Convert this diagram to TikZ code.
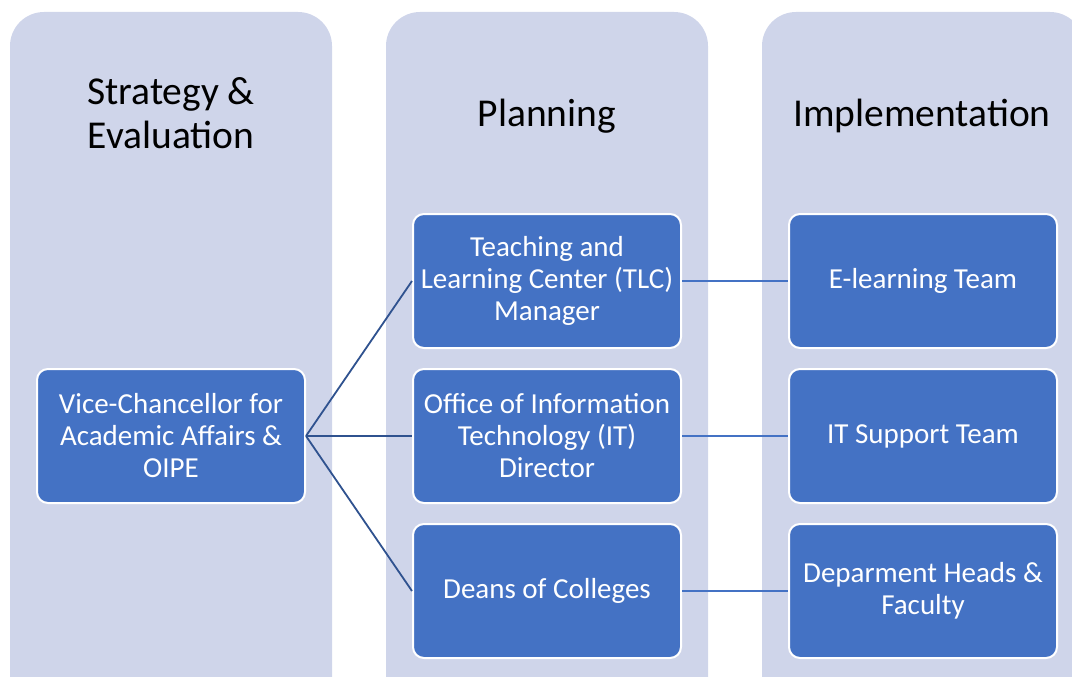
\documentclass[tikz,border=0pt]{standalone}
\usepackage{fontspec}
\setmainfont{Carlito}
\usepackage{xcolor}
\usepackage{tikz}
\definecolor{lavender}{HTML}{CFD5EA}
\definecolor{boxblue}{HTML}{4472C4}
\definecolor{linkblue}{HTML}{2F528F}
\tikzset{
	column/.style = {rectangle, rounded corners = 34pt, fill = lavender, minimum width = 322pt, minimum height = 700pt},
	header/.style = {align = center, font = \fontsize{39.5}{44}\selectfont},
	unit/.style = {rectangle, rounded corners = 11pt, draw = white, line width = 2pt, fill = boxblue, text = white, minimum width = 268pt, minimum height = 134pt, align = center, font = \fontsize{29}{32}\selectfont},
	link/.style = {line width = 1.8pt, draw = linkblue},
	flat/.style = {line width = 1.8pt, draw = boxblue}
}

\begin{document}
\begin{tikzpicture}[x=1pt, y=-1pt]
			\useasboundingbox (0,0) rectangle (1072,677);
			\clip (0,0) rectangle (1072,677);
			
			\node[column] (c1) at (171,362) {};
			\node[column] (c2) at (547,362) {};
			\node[column] (c3) at (923,362) {};
			
			\node[header] (h1) at (171,113) {Strategy \&\\Evaluation};
			\node[header] (h2) at (547,116) {Planning};
			\node[header] (h3) at (922,116) {Implementation};
			
			\node[unit] (vc) at (171,436) {Vice-Chancellor for\\Academic Affairs \&\\OIPE};
			\node[unit] (tlc) at (547,281) {Teaching and\\Learning Center (TLC)\\Manager};
			\node[unit] (it) at (547,436) {Office of Information\\Technology (IT)\\Director};
			\node[unit] (deans) at (547,591) {Deans of Colleges};
			\node[unit] (elearn) at (923,281) {E-learning Team};
			\node[unit] (itsup) at (923,436) {IT Support Team};
			\node[unit] (dept) at (923,591) {Deparment Heads \&\\Faculty};
			
			\draw[link] (vc.east) -- (tlc.west);
			\draw[link] (vc.east) -- (it.west);
			\draw[link] (vc.east) -- (deans.west);
			
			\draw[flat] (tlc.east) -- (elearn.west);
			\draw[flat] (it.east) -- (itsup.west);
			\draw[flat] (deans.east) -- (dept.west);
			
\end{tikzpicture}
\end{document}
